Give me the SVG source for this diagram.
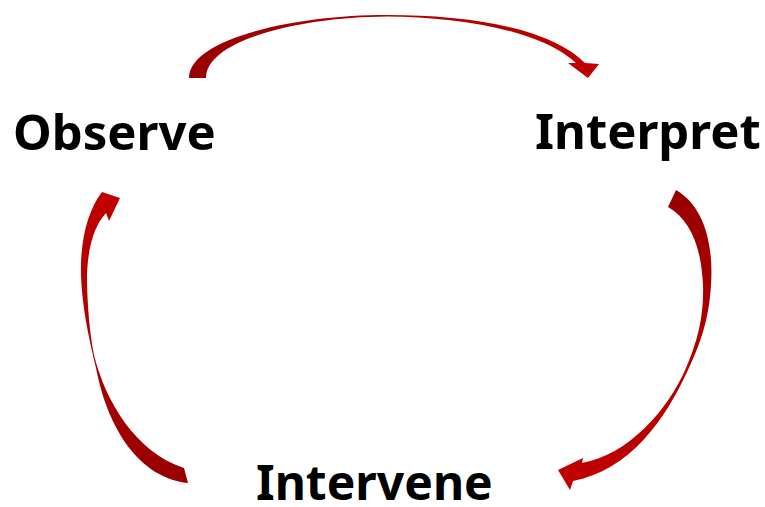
<svg xmlns="http://www.w3.org/2000/svg" width="765" height="507" viewBox="0 0 765 507">
<defs>
<style>
.lbl{font-family:"Noto Sans","Open Sans","Liberation Sans",sans-serif;font-weight:bold;font-size:49px;fill:#000}
.arr{stroke:none}
</style>
<linearGradient id="gTop" gradientUnits="userSpaceOnUse" x1="190" y1="0" x2="600" y2="0">
<stop offset="0" stop-color="#990000"/><stop offset="1" stop-color="#C00000"/>
</linearGradient>
<linearGradient id="gRight" gradientUnits="userSpaceOnUse" x1="0" y1="190" x2="0" y2="490">
<stop offset="0" stop-color="#990000"/><stop offset="1" stop-color="#C00000"/>
</linearGradient>
<linearGradient id="gLeft" gradientUnits="userSpaceOnUse" x1="0" y1="483" x2="0" y2="192">
<stop offset="0" stop-color="#990000"/><stop offset="1" stop-color="#C00000"/>
</linearGradient>
</defs>
<rect width="765" height="507" fill="#fff"/>
<g id="connectors">
<path id="arrow-observe-interpret" class="arr" fill="url(#gTop)" d="M189,78 C189,40 290,15 387,15 C470,15 550,28 585,63 L599,64 L588,78 L568,63 L576,63 C540,30 460,17 387,16.5 C300,17 206,40 206,78 Z"/>
<path id="arrow-interpret-intervene" class="arr" fill="url(#gRight)" d="M676,190 C702,205 714,240 711,285 C709,320 700,345 688,370 C665,420 630,470 573,481 L570,490 L558,470 L583,458 L582,463 C628,455 668,410 686,368 C698,340 704,315 703,285 C701,245 690,220 668,207 Z"/>
<path id="arrow-intervene-observe" class="arr" fill="url(#gLeft)" d="M188,483 C140,478 108,430 96,368 C88,335 82,305 81,275 C80,240 88,210 102,192 L120,198 L109,221 L106,213 C95,225 88,245 87,275 C87,305 90,335 94,355 C105,400 135,452 184,468 Z"/>
</g>
<g id="node-observe"><text class="lbl" x="13" y="150">Observe</text></g>
<g id="node-interpret"><text class="lbl" x="535" y="149">Interpret</text></g>
<g id="node-intervene"><text class="lbl" x="256" y="500" style="font-size:48px">Intervene</text></g>
</svg>
